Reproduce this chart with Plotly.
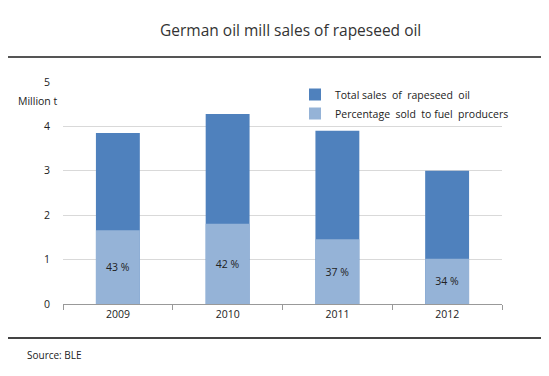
import plotly.graph_objects as go

years = ["2009", "2010", "2011", "2012"]
total_sales = [3.85, 4.28, 3.90, 3.00]
fuel_sales = [1.66, 1.81, 1.46, 1.02]
fuel_pct_labels = ["43 %", "42 %", "37 %", "34 %"]
y_ticks = [0, 1, 2, 3, 4, 5]

# screen coordinates (page has an 8px body margin)
OFF = 8
SW, SH = 549, 376
PL, PR, PT, PB = 63, 502, 82, 304  # plot area in screen px
W, H = SW - OFF, SH - OFF
L, T = PL - OFF, PT - OFF
R, B = SW - PR, SH - PB
pw, ph = PR - PL, PB - PT

def px_x(x):
    return (x - PL) / pw

def px_y(y):
    return (PB - y) / ph

font = "Open Sans, Noto Sans, sans-serif"

fig = go.Figure()
fig.add_trace(go.Bar(
    x=years, y=total_sales, name="Total sales  of  rapeseed  oil",
    marker=dict(color="#4F81BD", line=dict(width=0)), width=0.4,
    hoverinfo="skip",
))
fig.add_trace(go.Bar(
    x=years, y=fuel_sales, name="Percentage  sold  to fuel  producers",
    marker=dict(color="#95B3D7", line=dict(width=0)), width=0.4,
    text=fuel_pct_labels, textposition="inside", insidetextanchor="middle",
    textfont=dict(color="#222222", size=10.5, family=font), textangle=0,
    hoverinfo="skip",
))

fig.update_layout(
    width=W, height=H,
    margin=dict(l=L, r=R, t=T, b=B),
    barmode="overlay",
    plot_bgcolor="white", paper_bgcolor="white",
    font=dict(family=font, color="#222222", size=11),
    showlegend=True,
    legend=dict(x=px_x(295), y=px_y(80), xanchor="left", yanchor="top",
                bgcolor="rgba(255,255,255,0)", font=dict(size=10.5, color="#222222"),
                itemwidth=30, tracegroupgap=4, traceorder="normal"),
    xaxis=dict(type="category", showgrid=False, showline=True, linecolor="#999999",
               linewidth=1, ticks="outside", tickson="boundaries", ticklen=5,
               tickcolor="#999999", tickfont=dict(size=10.5), fixedrange=True),
    yaxis=dict(range=[0, 5], tickvals=y_ticks, showgrid=True, gridcolor="#D9D9D9",
               gridwidth=1, showline=False, zeroline=False, ticks="",
               tickfont=dict(size=10.5), ticklabelstandoff=12, fixedrange=True),
    shapes=[
        dict(type="line", xref="paper", yref="paper", x0=px_x(0), x1=px_x(SW),
             y0=px_y(57), y1=px_y(57), line=dict(color="#555555", width=2)),
        dict(type="line", xref="paper", yref="paper", x0=px_x(0), x1=px_x(SW),
             y0=px_y(338), y1=px_y(338), line=dict(color="#444444", width=2)),
    ],
    annotations=[
        dict(text="German oil mill sales of rapeseed oil", xref="paper", yref="paper",
             x=px_x(290), y=px_y(30), xanchor="center", yanchor="middle",
             showarrow=False, font=dict(size=15.5, color="#333333")),
        dict(text="Million t", xref="paper", yref="paper", x=px_x(60), y=px_y(101),
             xanchor="right", yanchor="middle", showarrow=False,
             font=dict(size=10.5, color="#222222")),
        dict(text="Source: BLE", xref="paper", yref="paper", x=px_x(25), y=px_y(355),
             xanchor="left", yanchor="middle", showarrow=False,
             font=dict(size=10, color="#222222")),
    ],
)

fig.write_html("out.html")
